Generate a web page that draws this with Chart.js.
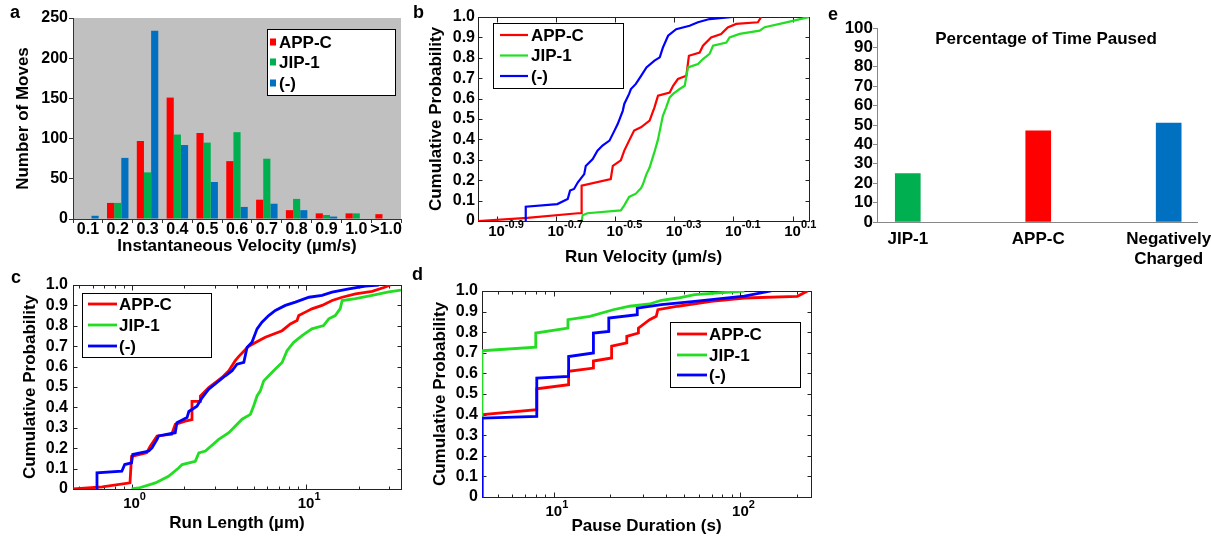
<!DOCTYPE html>
<html>
<head>
<meta charset="utf-8">
<title>Motility figure</title>
<script src="https://cdn.jsdelivr.net/npm/chart.js@4.4.1/dist/chart.umd.min.js"></script>
<style>
  html, body { margin: 0; padding: 0; background: #fff; }
  body { position: relative; width: 1211px; height: 537px; overflow: hidden; font-family: "Liberation Sans", Arial, sans-serif; }
  canvas { position: absolute; }
  .tag { position: absolute; font-weight: bold; font-size: 18px; line-height: 18px; }
</style>
</head>
<body>
<canvas id="histChart" width="410" height="268" style="left:0;top:0"></canvas>
<canvas id="velChart" width="420" height="268" style="left:400px;top:0"></canvas>
<canvas id="pausedChart" width="400" height="268" style="left:820px;top:0"></canvas>
<canvas id="lengthChart" width="410" height="269" style="left:0;top:268px"></canvas>
<canvas id="pauseChart" width="420" height="269" style="left:400px;top:268px"></canvas>
<div class="tag" style="left:10px;top:3px">a</div>
<div class="tag" style="left:413px;top:3px">b</div>
<div class="tag" style="left:828px;top:5px">e</div>
<div class="tag" style="left:11px;top:268px">c</div>
<div class="tag" style="left:412px;top:265px">d</div>
<script>
// a: instantaneous velocity histogram
const velBins = ['0.1', '0.2', '0.3', '0.4', '0.5', '0.6', '0.7', '0.8', '0.9', '1.0', '>1.0'];
const histAppC = [0, 20, 97, 151, 107, 72, 24, 11, 7, 7, 6];
const histJip1 = [0, 20, 58, 105, 95, 108, 75, 25, 5, 7, 0];
const histNeg = [4, 76, 234, 92, 46, 15, 19, 11, 3, 0, 0];

// b: run velocity CDF (um/s)
const velExp = [-0.9, -0.7, -0.5, -0.3, -0.1, 0.1];
const velAppC_x = [0.109, 0.160, 0.237, 0.244, 0.244, 0.306, 0.311, 0.331, 0.340, 0.353, 0.367, 0.387, 0.414, 0.430,
  0.442, 0.484, 0.497, 0.516, 0.551, 0.562, 0.611, 0.627, 0.668, 0.722, 0.760, 0.812, 0.961, 0.986];
const velAppC_y = [0, 0.015, 0.038, 0.038, 0.173, 0.205, 0.27, 0.297, 0.345, 0.394, 0.443, 0.459, 0.492, 0.557,
  0.614, 0.630, 0.663, 0.696, 0.712, 0.81, 0.826, 0.859, 0.900, 0.917, 0.949, 0.966, 0.974, 1.0];
const velJip1_x = [0.244, 0.246, 0.255, 0.331, 0.340, 0.353, 0.372, 0.387, 0.393, 0.404, 0.414, 0.431, 0.442, 0.453,
  0.459, 0.471, 0.484, 0.497, 0.523, 0.544, 0.558, 0.603, 0.627, 0.660, 0.678, 0.752, 0.771, 0.834, 0.974, 1.013, 1.199, 1.43];
const velJip1_y = [0, 0.028, 0.038, 0.052, 0.077, 0.118, 0.134, 0.160, 0.18, 0.23, 0.262, 0.344, 0.40, 0.476,
  0.516, 0.557, 0.606, 0.623, 0.647, 0.663, 0.753, 0.77, 0.794, 0.819, 0.859, 0.875, 0.9, 0.917, 0.933, 0.95, 0.974, 1.0];
const velNeg_x = [0.158, 0.158, 0.202, 0.219, 0.223, 0.230, 0.237, 0.249, 0.252, 0.266, 0.276, 0.287, 0.303, 0.315,
  0.323, 0.336, 0.340, 0.353, 0.358, 0.372, 0.387, 0.404, 0.430, 0.448, 0.459, 0.478, 0.509, 0.565, 0.603, 0.660, 0.790];
const velNeg_y = [0, 0.07, 0.083, 0.108, 0.149, 0.157, 0.19, 0.23, 0.27, 0.304, 0.345, 0.37, 0.394, 0.443,
  0.475, 0.54, 0.574, 0.623, 0.647, 0.672, 0.71, 0.753, 0.786, 0.802, 0.85, 0.908, 0.94, 0.957, 0.974, 0.99, 1.0];

// c: run length CDF (um)
const lenExp = [0, 1];
const lenAppC_x = [0.46, 0.68, 0.98, 1.0, 1.22, 1.28, 1.40, 1.70, 1.78, 2.03, 2.22, 2.22, 2.48, 2.48, 2.77, 3.02,
  3.30, 3.61, 3.93, 4.12, 4.69, 5.36, 5.84, 7.29, 8.13, 8.88, 9.08, 9.91, 10.8, 12.35, 14.1, 16.1, 19.2, 23.9, 28.5, 30.4];
const lenAppC_y = [0, 0.01, 0.03, 0.16, 0.177, 0.21, 0.26, 0.268, 0.317, 0.333, 0.34, 0.43, 0.43, 0.456, 0.497, 0.522,
  0.547, 0.58, 0.629, 0.65, 0.70, 0.727, 0.744, 0.776, 0.809, 0.826, 0.85, 0.867, 0.883, 0.9, 0.924, 0.94, 0.957, 0.969, 0.99, 1.0];
const lenJip1_x = [1.0, 1.10, 1.37, 1.63, 1.86, 1.95, 2.32, 2.43, 2.65, 3.16, 3.61, 4.30, 4.80, 5.01, 5.24, 5.47,
  5.72, 6.11, 6.67, 7.29, 7.78, 8.50, 9.49, 10.8, 12.6, 13.5, 14.7, 15.7, 16.1, 19.2, 23.9, 29.8, 35.0];
const lenJip1_y = [0, 0.005, 0.03, 0.062, 0.103, 0.12, 0.136, 0.177, 0.186, 0.243, 0.276, 0.342, 0.366, 0.407, 0.456, 0.481,
  0.53, 0.555, 0.588, 0.62, 0.678, 0.719, 0.752, 0.785, 0.801, 0.834, 0.85, 0.884, 0.924, 0.933, 0.949, 0.966, 0.975];
const lenNeg_x = [0.634, 0.634, 0.88, 0.914, 1.0, 1.016, 1.255, 1.31, 1.40, 1.43, 1.78, 1.82, 2.08, 2.13, 2.37, 2.54,
  2.77, 3.09, 3.45, 3.77, 4.02, 4.40, 4.59, 4.90, 5.24, 5.59, 6.11, 6.67, 7.61, 8.69, 10.4, 12.35, 14.1, 17.6, 21.9, 26.1];
const lenNeg_y = [0, 0.079, 0.087, 0.12, 0.128, 0.169, 0.186, 0.202, 0.243, 0.26, 0.276, 0.325, 0.35, 0.38, 0.406, 0.448,
  0.489, 0.522, 0.555, 0.58, 0.612, 0.621, 0.694, 0.719, 0.785, 0.818, 0.85, 0.875, 0.9, 0.916, 0.94, 0.949, 0.965, 0.981, 0.995, 1.0];

// d: pause duration CDF (s)
const pauseExp = [1, 2];
const pauseAppC_x = [4.12, 4.12, 8.1, 8.1, 12.0, 12.0, 16.3, 16.3, 20.4, 20.4, 24.6, 24.6, 28.4, 28.4, 32.6, 35.4,
  36.1, 46.2, 69.7, 105, 202, 229];
const pauseAppC_y = [0, 0.40, 0.424, 0.525, 0.545, 0.61, 0.626, 0.66, 0.675, 0.732, 0.748, 0.78, 0.796, 0.82, 0.861, 0.877,
  0.909, 0.926, 0.95, 0.966, 0.974, 1.0];
const pauseJip1_x = [4.12, 4.12, 8.0, 8.0, 11.9, 11.9, 15.6, 20.8, 25.5, 32.6, 37.7, 46.2, 56.8, 105];
const pauseJip1_y = [0, 0.71, 0.727, 0.796, 0.82, 0.861, 0.877, 0.909, 0.926, 0.937, 0.955, 0.966, 0.982, 1.0];
const pauseNeg_x = [4.12, 4.12, 8.1, 8.1, 12.0, 12.0, 16.3, 16.3, 19.7, 19.7, 28.0, 28.0, 37.7, 56.8, 105, 146];
const pauseNeg_y = [0, 0.383, 0.391, 0.577, 0.585, 0.682, 0.699, 0.796, 0.804, 0.869, 0.885, 0.917, 0.934, 0.95, 0.975, 1.0];

// e: percentage of time paused
const pausedGroups = ['JIP-1', 'APP-C', ['Negatively', 'Charged']];
const pausedPct = [25, 47, 51];

const FONT = '"Liberation Sans", Arial, sans-serif';
const RED = '#ff0000', GREEN = '#22dd22', BLUE = '#0000ff';
const BAR_RED = '#ff0000', BAR_GREEN = '#00b050', BAR_BLUE = '#0070c0';

Chart.defaults.font.family = FONT;
Chart.defaults.font.weight = 'bold';
Chart.defaults.color = '#000';
Chart.defaults.animation = false;
Chart.defaults.plugins.legend.display = false;
Chart.defaults.plugins.tooltip.enabled = false;

function toPoints(xs, ys) {
  return xs.map((x, i) => ({ x: x, y: ys[i] }));
}

// tick values 1..9 x 10^k inside [min, max]; 10^k are majors
function logTicks(min, max) {
  const out = [];
  for (let k = Math.floor(Math.log10(min)); k <= Math.ceil(Math.log10(max)); k++) {
    for (let m = 1; m <= 9; m++) {
      const v = m * Math.pow(10, k);
      if (v >= min && v <= max) out.push({ value: v, major: m === 1 });
    }
  }
  return out;
}

// gray plot background (panel a)
const chartBg = {
  id: 'chartBg',
  beforeDraw(chart, args, opts) {
    const a = chart.chartArea;
    chart.ctx.save();
    chart.ctx.fillStyle = opts.color;
    chart.ctx.fillRect(a.left, a.top, a.width, a.height);
    chart.ctx.restore();
  }
};

// matlab style box with inward ticks
const frameTicks = {
  id: 'frameTicks',
  beforeDatasetsDraw(chart) {
    const { ctx, chartArea: a, scales: { x, y } } = chart;
    const L = Math.round(a.left) + 0.5, R = Math.round(a.right) + 0.5;
    const T = Math.round(a.top) + 0.5, B = Math.round(a.bottom) + 0.5;
    ctx.save();
    ctx.strokeStyle = '#222';
    ctx.lineWidth = 1;
    ctx.beginPath();
    x.ticks.forEach(t => {
      const px = Math.round(x.getPixelForValue(t.value)) + 0.5;
      const len = t.major ? 5 : 3;
      ctx.moveTo(px, B); ctx.lineTo(px, B - len);
      ctx.moveTo(px, T); ctx.lineTo(px, T + len);
    });
    y.ticks.forEach(t => {
      const py = Math.round(y.getPixelForValue(t.value)) + 0.5;
      ctx.moveTo(L, py); ctx.lineTo(L + 4, py);
      ctx.moveTo(R, py); ctx.lineTo(R - 4, py);
    });
    ctx.stroke();
    ctx.strokeRect(L, T, R - L, B - T);
    ctx.restore();
  }
};

// "10" with superscript exponent under each major log tick
const powerLabels = {
  id: 'powerLabels',
  afterDraw(chart, args, opts) {
    const { ctx, scales: { x } } = chart;
    ctx.save();
    ctx.fillStyle = '#000';
    ctx.textBaseline = 'alphabetic';
    opts.exps.forEach(e => {
      const px = x.getPixelForValue(Math.pow(10, e));
      ctx.font = 'bold 15px ' + FONT;
      ctx.textAlign = 'center';
      ctx.fillText('10', px, opts.baseY);
      const w = ctx.measureText('10').width;
      ctx.font = 'bold 11px ' + FONT;
      ctx.textAlign = 'left';
      ctx.fillText(Number.isInteger(e) ? String(e) : e.toFixed(1), px + w / 2, opts.baseY - 8);
    });
    ctx.restore();
  }
};

// legend box inside the plot
const boxLegend = {
  id: 'boxLegend',
  afterDraw(chart, args, o) {
    const ctx = chart.ctx;
    ctx.save();
    ctx.fillStyle = '#fff';
    ctx.fillRect(o.x, o.y, o.w, o.h);
    ctx.strokeStyle = '#000';
    ctx.lineWidth = 1;
    ctx.strokeRect(o.x + 0.5, o.y + 0.5, o.w, o.h);
    ctx.font = 'bold 17px ' + FONT;
    ctx.textBaseline = 'middle';
    ctx.textAlign = 'left';
    chart.data.datasets.forEach((ds, i) => {
      const cy = o.rows[i];
      if (o.marker === 'square') {
        ctx.fillStyle = ds.backgroundColor;
        ctx.fillRect(o.markX, cy - 3.5, 6, 7);
      } else {
        ctx.strokeStyle = ds.borderColor;
        ctx.lineWidth = ds.borderWidth;
        ctx.beginPath();
        ctx.moveTo(o.markX, cy);
        ctx.lineTo(o.markX2, cy);
        ctx.stroke();
      }
      ctx.fillStyle = '#000';
      ctx.fillText(ds.label, o.textX, cy + 1);
    });
    ctx.restore();
  }
};

// title drawn inside plot area (panel e)
const innerTitle = {
  id: 'innerTitle',
  afterDraw(chart, args, o) {
    const ctx = chart.ctx;
    ctx.save();
    ctx.font = 'bold 17px ' + FONT;
    ctx.fillStyle = '#000';
    ctx.textAlign = 'center';
    ctx.textBaseline = 'middle';
    ctx.fillText(o.text, o.x, o.y);
    ctx.restore();
  }
};

function cdfX(min, max, majors, height, title, padBottom) {
  return {
    type: 'logarithmic',
    min: min,
    max: max,
    grid: { display: false, drawTicks: false },
    border: { display: false },
    ticks: { display: false },
    afterBuildTicks: s => {
      s.ticks = majors ? majors.map(e => ({ value: Math.pow(10, e), major: true })) : logTicks(min, max);
    },
    afterFit: s => { s.height = height; },
    title: { display: true, text: title, font: { size: 17 }, padding: { top: 0, bottom: padBottom } }
  };
}

function cdfY(width, titlePad, labelPad) {
  return {
    min: 0,
    max: 1,
    grid: { display: false, drawTicks: false },
    border: { display: false },
    ticks: {
      stepSize: 0.1, autoSkip: false, padding: labelPad, font: { size: 16 },
      callback: v => v === 0 ? '0' : v.toFixed(1)
    },
    afterFit: s => { s.width = width; },
    title: { display: true, text: 'Cumulative Probability', font: { size: 17 }, padding: { top: titlePad, bottom: 0 } }
  };
}

function cdfSets(appX, appY, jipX, jipY, negX, negY, lw) {
  return [
    { label: 'APP-C', data: toPoints(appX, appY), borderColor: RED, borderWidth: lw, order: 2 },
    { label: 'JIP-1', data: toPoints(jipX, jipY), borderColor: GREEN, borderWidth: lw, order: 1 },
    { label: '(-)', data: toPoints(negX, negY), borderColor: BLUE, borderWidth: lw, order: 0 }
  ];
}

// Panel a
new Chart(document.getElementById('histChart'), {
  type: 'bar',
  data: {
    labels: velBins,
    datasets: [
      { label: 'APP-C', data: histAppC, backgroundColor: BAR_RED },
      { label: 'JIP-1', data: histJip1, backgroundColor: BAR_GREEN },
      { label: '(-)', data: histNeg, backgroundColor: BAR_BLUE }
    ]
  },
  options: {
    responsive: false,
    layout: { padding: { top: 18, right: 9, bottom: 0, left: 0 } },
    datasets: { bar: { categoryPercentage: 0.72, barPercentage: 1.0 } },
    plugins: {
      chartBg: { color: '#c0c0c0' },
      boxLegend: { x: 267, y: 29, w: 128, h: 66, rows: [42, 62, 83], marker: 'square', markX: 270, textX: 279 }
    },
    scales: {
      x: {
        grid: { display: true, drawOnChartArea: false, tickLength: 4, color: '#333' },
        border: { color: '#333' },
        ticks: { font: { size: 16 }, padding: -3, autoSkip: false, maxRotation: 0 },
        afterFit: s => { s.height = 49; },
        title: { display: true, text: 'Instantaneous Velocity (µm/s)', font: { size: 17 }, padding: { top: 0, bottom: 11 } }
      },
      y: {
        min: 0,
        max: 250,
        grid: { display: true, drawOnChartArea: false, tickLength: 4, color: '#333' },
        border: { color: '#333' },
        ticks: { stepSize: 50, autoSkip: false, padding: 1, font: { size: 16 } },
        afterFit: s => { s.width = 73; },
        title: { display: true, text: 'Number of Moves', font: { size: 17 }, padding: { top: 13, bottom: 0 } }
      }
    }
  },
  plugins: [chartBg, boxLegend]
});

// Panel b
new Chart(document.getElementById('velChart'), {
  type: 'line',
  data: { datasets: cdfSets(velAppC_x, velAppC_y, velJip1_x, velJip1_y, velNeg_x, velNeg_y, 2.2) },
  options: {
    responsive: false,
    layout: { padding: { top: 17, right: 11, bottom: 0, left: 0 } },
    elements: { point: { radius: 0 }, line: { tension: 0 } },
    plugins: {
      powerLabels: { exps: velExp, baseY: 236 },
      boxLegend: { x: 93, y: 23, w: 130, h: 65, rows: [35, 55.5, 76], markX: 100, markX2: 128, textX: 131 }
    },
    scales: {
      x: cdfX(0.109, 1.43, velExp, 47, 'Run Velocity (µm/s)', 0),
      y: cdfY(78, 26, 3)
    }
  },
  plugins: [frameTicks, powerLabels, boxLegend]
});

// Panel c
new Chart(document.getElementById('lengthChart'), {
  type: 'line',
  data: { datasets: cdfSets(lenAppC_x, lenAppC_y, lenJip1_x, lenJip1_y, lenNeg_x, lenNeg_y, 2.8) },
  options: {
    responsive: false,
    layout: { padding: { top: 17, right: 9, bottom: 0, left: 0 } },
    elements: { point: { radius: 0 }, line: { tension: 0 } },
    plugins: {
      powerLabels: { exps: lenExp, baseY: 240 },
      boxLegend: { x: 82, y: 25, w: 129, h: 64, rows: [36, 57, 78], markX: 88, markX2: 117, textX: 119 }
    },
    scales: {
      x: cdfX(0.462, 35, null, 48, 'Run Length (µm)', 3),
      y: cdfY(73, 20, 5)
    }
  },
  plugins: [frameTicks, powerLabels, boxLegend]
});

// Panel d
new Chart(document.getElementById('pauseChart'), {
  type: 'line',
  data: { datasets: cdfSets(pauseAppC_x, pauseAppC_y, pauseJip1_x, pauseJip1_y, pauseNeg_x, pauseNeg_y, 2.8) },
  options: {
    responsive: false,
    layout: { padding: { top: 23, right: 9, bottom: 0, left: 0 } },
    elements: { point: { radius: 0 }, line: { tension: 0 } },
    plugins: {
      powerLabels: { exps: pauseExp, baseY: 248 },
      boxLegend: { x: 270, y: 54, w: 130, h: 65, rows: [66, 87, 107], markX: 277, markX2: 307, textX: 309 }
    },
    scales: {
      x: cdfX(4.12, 239, null, 40, 'Pause Duration (s)', 0),
      y: cdfY(82, 30, 4)
    }
  },
  plugins: [frameTicks, powerLabels, boxLegend]
});

// Panel e
new Chart(document.getElementById('pausedChart'), {
  type: 'bar',
  data: {
    datasets: [{
      data: pausedPct.map((v, i) => ({ x: i + 1, y: v })),
      backgroundColor: [BAR_GREEN, BAR_RED, BAR_BLUE],
      barThickness: 25
    }]
  },
  options: {
    responsive: false,
    layout: { padding: { top: 28, right: 20, bottom: 0, left: 0 } },
    plugins: {
      innerTitle: { text: 'Percentage of Time Paused', x: 226, y: 39 }
    },
    scales: {
      x: {
        type: 'linear',
        offset: false,
        min: 0.764,
        max: 3.22,
        afterBuildTicks: s => { s.ticks = pausedGroups.map((g, i) => ({ value: i + 1 })); },
        grid: { display: false, drawTicks: false },
        border: { color: '#888' },
        ticks: { autoSkip: false, maxRotation: 0, padding: 7, font: { size: 17 }, callback: (v, i) => pausedGroups[i] },
        afterFit: s => { s.height = 46; }
      },
      y: {
        min: 0,
        max: 100,
        grid: { display: true, drawOnChartArea: false, tickLength: 4, color: '#888' },
        border: { color: '#888' },
        ticks: { stepSize: 10, autoSkip: false, padding: 0, font: { size: 17 } },
        afterFit: s => { s.width = 57; }
      }
    }
  },
  plugins: [innerTitle]
});
</script>
</body>
</html>
